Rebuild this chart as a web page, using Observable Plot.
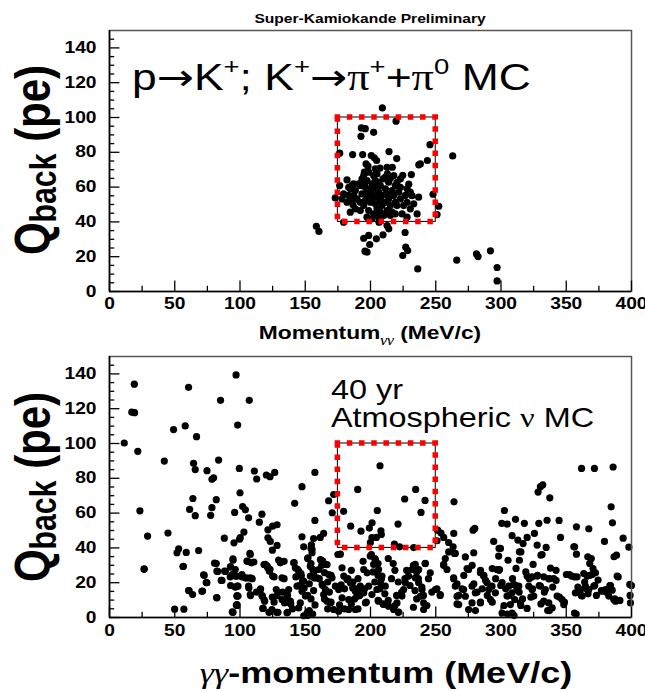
<!DOCTYPE html>
<html>
<head>
<meta charset="utf-8">
<script src="https://cdn.jsdelivr.net/npm/d3@7"></script>
<script src="https://cdn.jsdelivr.net/npm/@observablehq/plot@0.6"></script>
<style>
  body { margin: 0; background: #fff; }
  #chart { position: relative; width: 645px; height: 692px; overflow: hidden; }
  #chart svg { position: absolute; left: 0; overflow: visible; }
</style>
</head>
<body>
<div id="chart"></div>
<script>
// p -> K+ ; K+ -> pi+ pi0 signal MC : [gamma-gamma momentum (MeV/c), backward charge (pe)]
const kaonMC = [
  [209.1,105.5],[219.6,97.9],[193,94],[196,93.6],[202.4,91.5],[192.7,89.2],[245.6,84.4],[263,77.9],
  [176.4,79.5],[186.3,78.7],[194,78.7],[214.2,80.4],[200.6,78.1],[202.9,76.8],[204.7,75.3],[220.1,76.4],
  [243.6,75.3],[238.2,73.3],[237,72.8],[196.6,73.3],[198.1,72],[207.3,70.9],[216.7,71.4],[195.3,68.6],
  [205,67.6],[212.9,67.6],[224.7,66.8],[231.3,67.2],[182,64.1],[176.4,60.9],[185.8,60.9],[229.3,61.7],
  [179.4,56.1],[184.5,59],[173,53.8],[247.9,55.9],[252.3,49],[231.8,55.1],[236.9,54.2],[185.8,52.9],
  [186.6,49.8],[184.5,45.6],[179.4,39.8],[251,44.2],[158.5,37.5],[160.5,34.5],[206.5,39.8],[212.7,37.9],
  [214,36],[209.6,32.6],[204.5,30.3],[198.6,32.2],[194.8,30.6],[199.4,27],[195.8,23.2],[197.3,22.6],
  [226.5,33.9],[227,25.5],[228.5,23.5],[224.7,20.7],[236.2,13],[266.1,18],[281.2,21.6],[282.4,20.1],
  [291.9,23.4],[297,13.8],[297,6.1],
  [197.3,63.8],[201.2,61.9],[205.8,62.8],[209.6,64.7],[213.9,62.8],[215.2,65.1],[220.3,62.8],[222.9,64.7],
  [194.8,49.4],[198.6,46.5],[202.4,44.6],[207.5,45.6],[212.7,46.5],[220.3,49.4],[225.4,49.4],[230.5,47.5],
  [235.7,44.6],[192.2,60.9],[196,59.9],[199.9,59],[203.7,59.9],[207.5,60.9],[211.4,59],[216.5,58],
  [221.6,57.1],[193.5,56.1],[197.3,55.2],[201.2,56.1],[205,54.2],[208.8,55.2],[212.7,56.1],[217.8,55.2],
  [222.9,53.2],[189.6,53.2],[192.2,51.3],[196,52.3],[199.9,51.3],[203.7,50.4],[207.5,52.3],[211.4,51.3],
  [215.2,49.4],[219,51.3],[228,51.3],[188.4,58],[187.1,55.2],[206.3,57.1],[202.4,66.6],[198.6,68.6],
  [193.5,64.7],[190.9,61.9],[183.3,59.9],[187.1,61.9],[197.3,42.7],[201.2,41.7],[206.3,42.7],[210.1,43.7],
  [215.2,43.7],[219,44.6],[224.2,44.6],[228,42.7],[192.2,46.5],[188.4,47.5],[182,51.3],[183.3,55.2],
  [178.2,53.2],[230.5,57.1],[233.1,50.4],[226.7,55.2],[217.8,66.6],[212.7,71.4],[203.7,70.5],[222.9,59.9],
  [228,59],[216.5,45.6],[205,47.5],[208.8,49.4],[197.3,58],[201.2,53.2],[213.9,53.2],[203.7,63.8],
  [211.4,65.7],[194.8,66.6],[196,62.8],[205,59],[219,60.9]
];

// 40 yr atmospheric neutrino MC : [gamma-gamma momentum (MeV/c), backward charge (pe)]
const atmMC = [
  // sparse upper region
  [97,139.4],[19,134.1],[60.6,132.3],[85.1,124.8],[17.1,118],[19.2,117.7],[49.1,108],[58,110.1],
  [98.2,110.6],[66.7,103.9],[11.3,100.3],[21.7,95.5],[42,89.9],[64.4,88.6],[65.7,85],[83.6,90.5],
  [99.5,85.7],[74.7,84.4],[78.5,79.4],[79.8,80.3],[100,71.7],[63.9,68.4],[81.8,67.7],[23.3,61.3],
  [61.4,62.1],[65.7,58.5],[78.5,63.1],[77.5,58.7],[95.9,60.4],[29.2,46.8],[44.8,48.5],[88,45.6],
  [95.4,42.9],[99.7,45],[53,39.5],[51.7,37.2],[58.8,37.4],[68.3,38.5],[26.6,28],[56.3,29.3],
  [80.5,31.2],[94.6,33.7],[72.1,24.5],[74.1,20.1],[82.3,26.6],[88.2,26.6],[92.8,29.1],[95.1,24.7],
  [92.5,23.4],[97.7,23.7],[85.6,21.3],[92.8,18.4],[96.4,17.4],[60.6,15.5],[63.7,13.2],[70.8,15.1],
  [82.1,11.5],[97.7,12.2],[97.2,7.1],[49.9,4.8],[57,4.8],[94.1,3.2],
  [107.1,124.8],[111,84.2],[112.8,79.6],[120.2,81.9],[123,80.9],[126.6,83.4],[157.4,83.4],[147.5,75.2],
  [141.9,65.6],[167.9,67.1],[171.8,70.7],[102,63.8],[104.1,61.9],[106.6,57.3],[114.8,54.8],[116.8,59.4],
  [157.4,55.8],[170.7,60.2],[179.4,61],[121.4,50.4],[125,52.5],[128.4,53.3],[103,49.1],[100.2,45.9],
  [121.4,45.8],[123.2,43.7],[128.4,41.4],[147.5,46.4],[148.8,40.6],[154.7,41.8],[156.4,45.4],[161.5,46],
  [164.1,48.3],[155.2,39.1],[176.9,36.4],
  [207.3,87.2],[190.2,73.6],[234.6,73.6],[226.2,68.1],[241.8,67.3],[264,66.5],[205.2,61.5],[238.7,60.4],
  [184.8,52.5],[192.7,49.6],[201.2,54.4],[199.1,51.4],[208,49.8],[221.1,53.7],[199.9,43.1],[204.5,46],
  [218.3,42.2],[233.1,40.2],[251,44.1],[251.5,50.2],[254,48.5],[263.8,48.3],[278.6,50.2],[279.9,51.2],
  [302.6,61.5],[300.6,54.1],[304.7,53.7],[311.1,56.4],[317.9,54.1],[328.4,72.1],[330.2,75.2],[332,76.3],
  [337.4,68.8],[329,54.1],[335.3,55.9],[344.5,55.8],[357.8,52.1],[361.7,85.7],[371.6,85.7],[385.9,86.5],
  [384.4,63.6],[385.4,54.4],[393.6,45.6],[379.3,43.7],[398,40.4],[294.4,43.7],[308.5,47],[312.9,44.5],
  [316.9,42.5],[320,46],[325.6,48.3],[327.7,41.6],[334.6,40.3],[299.6,39.7],[279.1,37.2],[314.1,37.8],
  [345.6,46],[355.8,40.6],[357.8,36.4],[366.5,34.9],[386.6,34.9],[256.1,46],[259.9,43.1],[263.3,40.6],
  [264.3,36.8],[201.1,45.9],[222.3,40.6],[208.3,47.7],[367.3,51],
  // dense band below 40 pe
  [107.9,36.2],[105.3,32.4],[108.7,31.4],[96.4,27.6],[101.5,24.7],[104.1,22.8],[107.9,22.8],[106.6,18],
  [107.9,13.2],[98.4,18],[97.7,12.6],[97.7,7.4],[115.6,16.1],[116.9,12.3],[118.9,9.4],[119.4,30.5],
  [121.2,28.6],[122.5,26.6],[125,23.8],[130.9,31.4],[132.2,22.8],[127.8,16.1],[128.4,12.6],[132.2,10.3],
  [136,13.2],[137.3,16.1],[138.6,9.4],[134.2,8.4],[124.5,4.6],[117.4,5.2],[129.1,3],[136,2.7],
  [141.1,31.4],[142.4,28.6],[145,26.6],[147,23.8],[148.8,20.9],[143.7,18],[147.5,15.1],[150.1,12.3],
  [146.2,8.4],[145,5.5],[151.4,2.6],[148.8,1],[152.1,34.3],[153.9,29.5],[156.5,25.7],[159,22.8],
  [160.3,27.6],[162.9,19],[165.4,16.1],[164.1,13.2],[166.7,9.4],[168,24.7],[170.5,22.8],[173.1,18],
  [175.6,16.1],[169.2,8.4],[171.8,4.6],[175.6,3.6],[178.2,11.3],[179.5,23.8],[182,21.8],[184.6,19.9],
  [186.4,17],[188.4,15.1],[189.7,12.2],[192.2,18],[194.8,14.2],[196.1,8.4],[183.3,10.3],[183.3,4.6],
  [188.4,4.6],[198.6,18],[197.4,25.7],[194.8,27.6],[178.2,28.6],[165.4,30.5],[161.6,33.3],[155.2,37.2],
  [129.6,33],[163.4,32.4],[166.7,30.4],
  [199.8,35.3],[203.7,33.3],[202.4,30.5],[206.2,27.6],[208.8,23.8],[207.5,20],[211.3,18],[204.9,16.1],
  [201.1,13.2],[206.2,9.4],[210.1,7.5],[213.9,6.5],[217.7,4.6],[221.6,3.1],[220.3,8.4],[224.1,12.3],
  [225.4,16.1],[226.7,20],[229.2,23.8],[231.8,27.6],[234.3,30.5],[236.9,27.6],[242,31.1],[234.3,22.8],
  [236.9,20],[239.5,16.1],[238.2,12.2],[240.7,8.4],[240.7,4.6],[245.8,25.7],[249.7,16.1],[253.5,13.2],
  [256.1,30.5],[258.6,27.6],[263.7,22.8],[265,18],[266.3,12.2],[267.6,7.4],[271.4,16.1],[272.7,12.2],
  [275.2,27.6],[277.8,18],[280.3,14.2],[284.2,25.7],[286.7,23.8],[289.3,20],[290.6,16.1],[293.1,18],
  [295.7,14.2],[297,27.6],[291.9,10.3],[284.2,8.4],[277.8,8.4],[275.2,4.6],[298.2,35.3],
  [320,23.8],[323.8,23.4],[327.6,23.8],[332.8,23.4],[336.6,22.2],[340.4,22.4],[363.4,25.3],[366,23.8],
  [369.8,24.7],[372.4,25.7],[374.4,21.5],[300.8,20],[305.9,18],[309.8,19],[312.3,16.1],[313.6,18],
  [308.5,14.2],[304.6,12.3],[310.5,10.3],[314.9,8.4],[307.2,7.4],[321.3,18],[323.8,16.1],[325.1,12.3],
  [330.2,18],[334,16.1],[332.8,9.4],[336.6,8.4],[339.2,5.5],[343,12.3],[346.8,10.3],[348.1,7.4],
  [357,14.2],[360.9,16.1],[362.2,12.3],[364.7,18],[367.3,16.1],[371.1,18],[377.5,15.1],[380.1,16.1],
  [382.6,12.3],[386.4,10.3],[387.7,9.4],[399.2,8.4],[300.8,2.6],[308.5,2.6],[320,5.2],[337.1,4],
  [356.3,2.6],[350.1,24.7],[354,23.8],[358.3,23.4],[389,23.8],[383.9,18.4],[385.2,15.7],[398.7,19],
  [305.4,32.9],[314.1,32.9],[324.6,30.5],[337.9,28.4],[298.8,27.6],[311.5,28.2],[331.5,36.2],[368,31.1],
  [26.5,27.7],[56.6,29.4],[61,15.5],[72.6,24.2],[74.6,20],[71.3,15.2],[81.8,31],[82.9,26.5],
  [86.2,21.3],[82.3,11.3],[88.8,26.5],[92.6,29.1],[94.7,32.9],[93.9,24.6],[96.5,23.8],[97.8,18.1],
  [98.5,12.3],[97.8,6.9],[94.7,3],[101.6,23.3],[105.5,22.7],[109.4,22.3],[106,32.3],[107.6,36.8],
  [110.6,31.9],[106.8,16.9],[108.1,12.6],[112.7,14.6],[115.8,16.5],[117.1,12.6],[118.4,10.3],[118.4,30.4],
  [120.9,29.6],[123,27.7],[126.1,23.3],[124.8,38.7],[117.8,5.3],[122.2,3],[128.1,3],[124.8,11.7],
  [126.1,8.8],[133.8,32.3],[133.8,22.3],[132.5,14.6],[136.4,12.6],[135.1,8.8],[138.9,7.8],[140.2,4.9],
  [136.4,3],[141.5,31.6],[144.1,27.7],[142.8,23.3],[146.7,25.2],[147.9,20.8],[145.4,18.4],[149.2,16.9],
  [151.8,33.9],[154.4,31],[155.7,27.7],[153.9,23.8],[157,22.7],[153.1,19.4],[156.4,15.5],[151.8,12.7],
  [154.4,10.7],[157.5,7.2],[153.1,4],[151.8,1.1],[155.7,2],[162.1,32.9],[162.6,30],[164.7,25.8],
  [160.8,22.3],[163.4,18.4],[167.2,20.4],[169.8,24.2],[168.5,14.6],[164.7,10.7],[169.8,8.8],[167.2,4.9],
  [175,36.2],[177.5,18.8],[180.1,16.5],[176.3,7.2],[180.1,4.9],[185.3,27.1],[182.7,22.3],[186.5,20.4],
  [190.4,22.3],[189.1,16.5],[193,14.6],[187.8,10.7],[191.7,12.6],[195.5,16.5],[185.3,7.8],[190.4,4.9],
  [196.8,8.8],[194.3,32.3],[200.7,36.2],[203.3,33.9],[205.8,31],[202,26.2],[205.8,24.2],[203.3,20.4],
  [208.4,22.3],[207.1,16.5],[211,13.6],[205.8,9.8],[209.7,7.8],[213.6,9.8],[213.6,33.9],[217.4,31],
  [218.7,27.1],[216.1,22.3],[221.3,20.4],[220,12.7],[223.9,14.6],[218.7,6.9],[221.3,3],[227.7,27.1],
  [226.4,22.3],[230.3,18.4],[232.9,30],[235.4,26.2],[236.7,22.3],[234.1,15.5],[239.3,17.5],[240.6,12.7],
  [235.4,10.7],[232.9,5.9],[241.9,31],[244.4,22.3],[247,14.6],[243.2,6.9],[250.9,16.5],[253.4,12.7],
  [256,30],[257.3,33.9],[259.9,37.7],[263.7,22.3],[266.3,19.4],[267.6,12.7],[266.3,7.8],[270.2,16.5],
  [271.5,24.2],[274,28.1],[277.9,30],[279.2,19.4],[281.7,14.6],[284.3,27.1],[286.9,24.2],[288.2,21.3],
  [285.6,16.5],[289.5,12.7],[284.3,8.8],[280.4,4],[293.3,28.1],[293.3,8.8],[298.5,27.1],[295.9,22.3],
  [299.8,18.4],[303.6,16.5],[302.3,6.9],[304.9,2],[310,1.1],[306.2,12.7],[308.8,22.3],[311.3,18.4],
  [313.9,14.6],[316.5,10.7],[315.2,6.9],[319,26.2],[321.6,22.3],[324.2,16.5],[322.9,11.7],[328,24.2],
  [329.3,18.4],[330.6,7.8],[333.2,14.6],[335.8,4],[337.1,22.3],[339.6,17.5],[342.2,21.3],[344.8,11.7],
  [348.6,8.8],[342.2,27.1],[352.5,24.6],[356.4,23.3],[357.6,2],[358.9,17.5],[361.5,12.7],[364.1,20.4],
  [365.4,16.5],[366.7,13.6],[367.9,24.2],[370.5,28.1],[371.8,18.4],[373.1,12.7],[376.9,15.5],[380.8,14.6],
  [383.4,18.4],[387.2,10.7],[389.8,23.3],[391.1,9.8],[398.9,12.7],[400,18.4],[154.4,39.7],[265,36.8],
  [272.7,34.8],[298.5,39.7],[315.2,37.7],[330.6,35.8],[356.4,40.6],[369.2,33.9],[388.5,35.8]
];

// signal selection window
const boxMomentum = [175, 250];
const boxCharge = [40, 100];

// axis ticks
const xMajor = [0, 50, 100, 150, 200, 250, 300, 350, 400];
const xMinor = [25, 75, 125, 175, 225, 275, 325, 375];
const yMajor = [0, 20, 40, 60, 80, 100, 120, 140];
const yMinor = [5, 10, 15, 25, 30, 35, 45, 50, 55, 65, 70, 75, 85, 90, 95, 105, 110, 115, 125, 130, 135, 145];

const FONT = '"Liberation Sans", Arial, Helvetica, sans-serif';
const SERIF = '"Liberation Serif", "Times New Roman", serif';
const STRETCH = 1.2;

function panel(points, {height, marginTop, marginBottom, xPad}) {
  const box = [{x1: boxMomentum[0], x2: boxMomentum[1], y1: boxCharge[0], y2: boxCharge[1]}];
  return Plot.plot({
    width: 645, height, marginLeft: 109, marginRight: 14, marginTop, marginBottom,
    x: {domain: [0, 400]},
    y: {domain: [0, 150]},
    style: {fontFamily: FONT, fontSize: "16px", fontWeight: "bold", color: "black", background: "white"},
    marks: [
      Plot.dot(points, {x: d => d[0], y: d => d[1], r: 3.6, fill: "black", stroke: "none"}),
      Plot.rect(box, {x1: "x1", x2: "x2", y1: "y1", y2: "y2", fill: "none", stroke: "black", strokeWidth: 1}),
      Plot.rect(box, {x1: "x1", x2: "x2", y1: "y1", y2: "y2", fill: "none", stroke: "#ff0000",
        strokeWidth: 5.5, strokeDasharray: "5.5 6.7", strokeDashoffset: 2.75}),
      Plot.frame({stroke: "#555", strokeWidth: 1.5}),
      // inward ticks along the bottom and left axes
      Plot.ruleX(xMajor, {x: d => d, y1: 0, y2: 6, stroke: "black", strokeWidth: 1.3}),
      Plot.ruleX(xMinor, {x: d => d, y1: 0, y2: 3, stroke: "black", strokeWidth: 1.3}),
      Plot.ruleY(yMajor, {y: d => d, x1: 0, x2: 8, stroke: "black", strokeWidth: 1.3}),
      Plot.ruleY(yMinor, {y: d => d, x1: 0, x2: 4, stroke: "black", strokeWidth: 1.3}),
      Plot.ruleX([0], {stroke: "black", strokeWidth: 1.6}),
      Plot.ruleY([0], {stroke: "black", strokeWidth: 1.6}),
      Plot.axisX({ticks: xMajor, tickSize: 0, tickPadding: xPad, label: null}),
      Plot.axisY({ticks: yMajor, tickSize: 0, tickPadding: 13, label: null})
    ]
  });
}

// widen every text element horizontally about its anchor point
function widen(svg, k) {
  svg.querySelectorAll("text").forEach(t => {
    const xa = t.getAttribute("x");
    let tr = t.getAttribute("transform") || "";
    if (xa !== null && isFinite(+xa) && +xa !== 0) {
      tr += ` translate(${+xa},0)`;
      t.removeAttribute("x");
    }
    t.setAttribute("transform", `${tr} scale(${k},1)`);
  });
}

// rich text with sub/superscripts; parts: {text, scale, shift (em, + = down), family, style, weight}
function rich(svg, x, y, parts, {size, weight = "normal", anchor = "start", rotate = 0}) {
  const t = d3.select(svg).append("text")
    .attr("transform", `translate(${x},${y}) scale(${STRETCH},1)` + (rotate ? ` rotate(${rotate})` : ""))
    .attr("text-anchor", anchor)
    .attr("font-family", FONT)
    .attr("font-size", size)
    .attr("font-weight", weight)
    .attr("fill", "black");
  let cur = 0;
  for (const p of parts) {
    const s = (p.shift || 0) * size;
    const span = t.append("tspan").text(p.text);
    if (p.scale) span.attr("font-size", size * p.scale);
    if (p.family) span.attr("font-family", p.family);
    if (p.style) span.attr("font-style", p.style);
    if (p.weight) span.attr("font-weight", p.weight);
    if (s - cur) span.attr("dy", s - cur);
    cur = s;
  }
  return t;
}

const chart = document.getElementById("chart");

// upper panel: signal MC
const top1 = panel(kaonMC, {height: 345, marginTop: 30, marginBottom: 54, xPad: 6});
widen(top1, STRETCH);
top1.style.top = "0px";
chart.appendChild(top1);

rich(top1, 370, 23, [{text: "Super-Kamiokande Preliminary"}], {size: 13, weight: "bold", anchor: "middle"});
rich(top1, 132, 90, [
  {text: "p"},
  {text: "→", family: '"DejaVu Sans", sans-serif'},
  {text: "K"},
  {text: "+", scale: 0.62, shift: -0.42},
  {text: "; K"},
  {text: "+", scale: 0.62, shift: -0.42},
  {text: "→", family: '"DejaVu Sans", sans-serif'},
  {text: "π", family: SERIF},
  {text: "+", scale: 0.62, shift: -0.42},
  {text: "+"},
  {text: "π", family: SERIF},
  {text: "0", scale: 0.62, shift: -0.42},
  {text: " MC"}
], {size: 37});
rich(top1, 370, 339, [
  {text: "Momentum"},
  {text: "γγ", scale: 0.75, shift: 0.3, family: SERIF, style: "italic", weight: "normal"},
  {text: " (MeV/c)"}
], {size: 19, weight: "bold", anchor: "middle"});
rich(top1, 50, 160, [
  {text: "Q"},
  {text: "back", scale: 0.72, shift: 0.12},
  {text: " (pe)"}
], {size: 42, weight: "bold", anchor: "middle", rotate: -90});

// lower panel: atmospheric neutrino background MC
const bottom = panel(atmMC, {height: 347, marginTop: 11, marginBottom: 75, xPad: 7});
widen(bottom, STRETCH);
bottom.style.top = "345px";
chart.appendChild(bottom);

rich(bottom, 331, 54, [{text: "40 yr"}], {size: 27});
rich(bottom, 331, 82, [
  {text: "Atmospheric "},
  {text: "ν", family: SERIF},
  {text: " MC"}
], {size: 27});
rich(bottom, 386, 338, [
  {text: "γγ", family: SERIF, style: "italic", weight: "normal"},
  {text: "-momentum (MeV/c)"}
], {size: 30, weight: "bold", anchor: "middle"});
rich(bottom, 50, 142, [
  {text: "Q"},
  {text: "back", scale: 0.72, shift: 0.12},
  {text: " (pe)"}
], {size: 42, weight: "bold", anchor: "middle", rotate: -90});
</script>
</body>
</html>
